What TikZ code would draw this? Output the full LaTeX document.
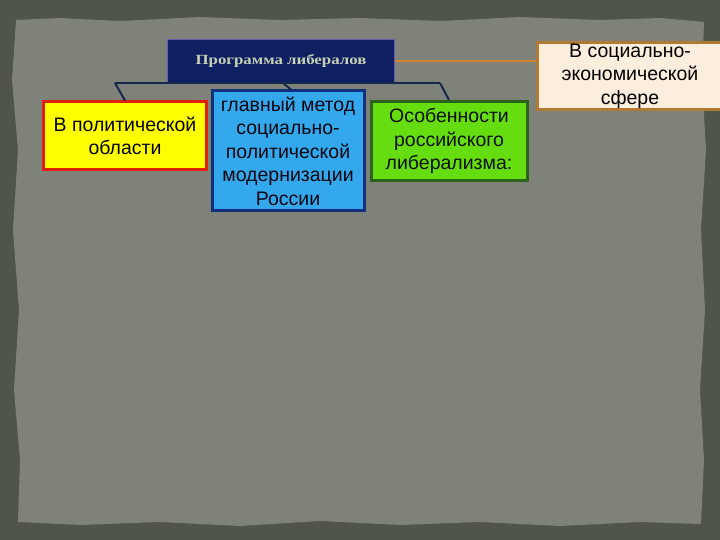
\documentclass[tikz,border=0pt]{standalone}
\usepackage{fontspec}
\setmainfont{Liberation Sans}
\newfontfamily\titlefont{Liberation Serif}
\definecolor{frame}{HTML}{4F5548}
\definecolor{paper}{HTML}{7E8279}
\definecolor{navy}{HTML}{0E1F62}
\definecolor{titleedge}{HTML}{6A5AB0}
\definecolor{titletext}{HTML}{C9D1B5}
\definecolor{linkc}{HTML}{17284E}
\definecolor{orangel}{HTML}{D3822F}
\definecolor{ybox}{HTML}{FFFF00}
\definecolor{yedge}{HTML}{E0200F}
\definecolor{bbox}{HTML}{33A8EC}
\definecolor{bedge}{HTML}{10307E}
\definecolor{gbox}{HTML}{66DD11}
\definecolor{gedge}{HTML}{2A6418}
\definecolor{cbox}{HTML}{FCEEDC}
\definecolor{cedge}{HTML}{B07A34}
\tikzset{
  box/.style={rectangle, draw, line width=3pt, align=center, inner sep=0pt,
    font=\fontsize{19.5}{23.5}\selectfont},
  link/.style={draw=linkc, line width=2pt},
}
\begin{document}
\begin{tikzpicture}[x=1pt,y=-1pt]
\useasboundingbox (0,0) rectangle (720,540);
\fill[frame] (0,0) rectangle (720,540);
\fill[paper] (16,20) -- (60,18) -- (120,21) -- (200,17) -- (280,20) -- (360,18) -- (440,21) -- (520,17) -- (600,20) -- (660,18) -- (704,22)
  -- (702,80) -- (706,150) -- (701,230) -- (705,310) -- (700,390) -- (704,460) -- (701,524)
  -- (640,522) -- (560,526) -- (480,522) -- (400,525) -- (320,521) -- (240,526) -- (160,522) -- (80,525) -- (18,522)
  -- (20,460) -- (14,390) -- (19,310) -- (13,230) -- (18,150) -- (12,80) -- cycle;

% title
\node[rectangle, fill=navy, draw=titleedge, line width=1pt, minimum width=227pt, minimum height=43pt,
  font=\titlefont\bfseries\fontsize{14}{16}\selectfont, text=titletext] (title) at (281,61)
  {\scalebox{1.2}[1]{Программа либералов}};

% child boxes
\node[box, fill=ybox, draw=yedge, minimum width=163pt, minimum height=68pt, text=black] (pol) at (125,136)
  {В политической\\области};
\node[box, fill=bbox, draw=bedge, minimum width=152pt, minimum height=120pt, text=black!85!navy] (met) at (288,151)
  {главный метод\\социально-\\политической\\модернизации\\России};
\node[box, fill=gbox, draw=gedge, minimum width=156pt, minimum height=79pt, text=black!85!gedge] (osob) at (449,141)
  {Особенности\\российского\\либерализма:};
\node[box, fill=cbox, draw=cedge, minimum width=186pt, minimum height=67pt, text=black] (econ) at (630,76)
  {В социально-\\экономической\\сфере};

% connectors
\coordinate (hl) at (115,83);
\coordinate (hr) at (440,83);
\coordinate (hm) at (283,83);
\draw[link] (hl) -- (hr);
\draw[link] (hl) -- (pol.north -| 125,0);
\draw[link] (hm) -- (met.north -| 291,0);
\draw[link] (hr) -- (osob.north -| 449,0);
\draw[draw=orangel, line width=1.5pt] (title.east |- 0,61) -- (econ.west |- 0,61);
\end{tikzpicture}
\end{document}
